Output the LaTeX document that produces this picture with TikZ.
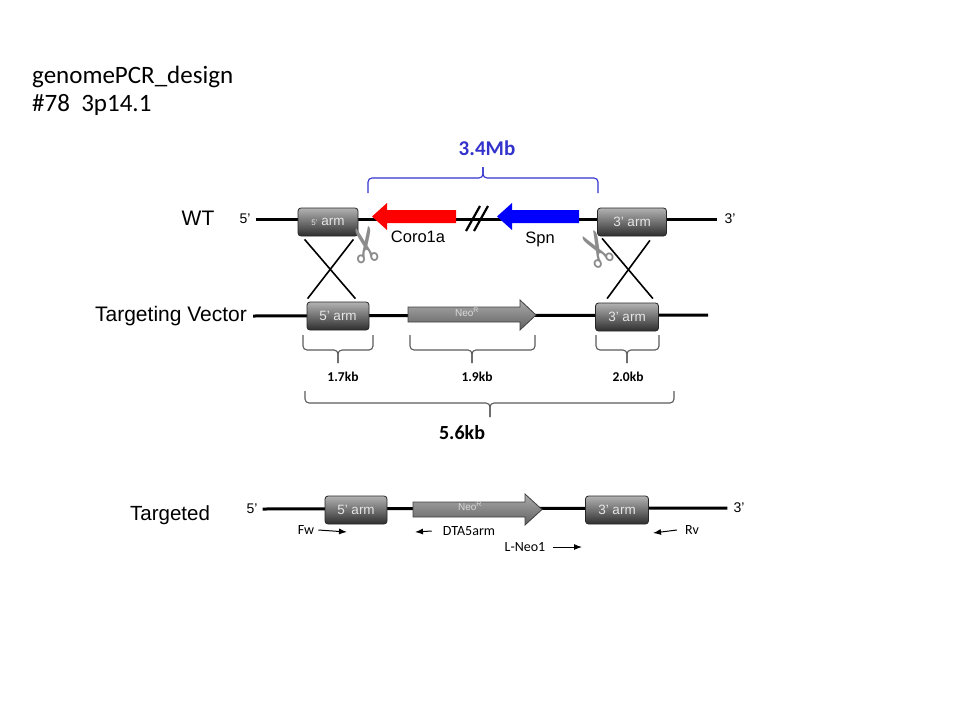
\documentclass[tikz,border=0pt]{standalone}
\usepackage{fontspec}
\setmainfont{Liberation Sans}
\newfontfamily\calibri{Carlito}
\newfontfamily\dejavu{DejaVu Sans}
\usetikzlibrary{arrows.meta}
\definecolor{mbblue}{RGB}{51,51,204}
\definecolor{bracegray}{RGB}{90,90,90}

\begin{document}
\begin{tikzpicture}[x=1pt,y=-1pt]
        \tikzstyle{every node}=[inner sep=0pt]
        \tikzstyle{armbox}=[draw=black!85, line width=0.8pt, rounded corners=3pt, top color=black!30, bottom color=black!82, minimum height=28pt, text=white!90!black, font=\fontsize{13.5}{15}\selectfont]
        \tikzstyle{dna}=[line width=3pt]
        \tikzstyle{cross}=[line width=1.6pt]
        \tikzstyle{kbbrace}=[draw=bracegray, line width=1.1pt, rounded corners=4pt]
        \tikzstyle{neo}=[draw=black!75, line width=0.8pt, top color=black!33, bottom color=black!62]
        \tikzstyle{neolabel}=[text=white!85!black, font=\fontsize{10}{12}\selectfont]
        \tikzstyle{primer}=[line width=1pt, -{Latex[length=8pt,width=6pt]}]
        \tikzstyle{rowlabel}=[font=\fontsize{21}{25}\selectfont]
        \tikzstyle{endlabel}=[font=\fontsize{14}{16}\selectfont]
        \tikzstyle{genelabel}=[font=\fontsize{16.5}{19}\selectfont]
        \tikzstyle{kb}=[font=\calibri\bfseries\fontsize{13.5}{15}\selectfont]
        \tikzstyle{primerlabel}=[font=\calibri\fontsize{14}{16}\selectfont]
        \tikzstyle{scissors}=[text=black!45, font=\dejavu\fontsize{48}{50}\selectfont]
        \useasboundingbox (0,0) rectangle (960,720);
        \node[anchor=base west, font=\calibri\fontsize{25}{29}\selectfont] (title) at (32,83) {genomePCR\_design};
        \node[anchor=base west, font=\calibri\fontsize{25}{29}\selectfont] (locus) at (32,111) {\#78\ \ 3p14.1};
        \node[rowlabel] (wtlabel) at (198,218) {WT};
        \node[endlabel] (wt5p) at (245,219) {5'};
        \node[endlabel] (wt3p) at (730,219) {3'};
        \draw[dna] ([xshift=5pt]wt5p.east) -- ([xshift=-7pt]wt3p.west);
        \node[armbox, minimum width=60pt] (wt5) at (328,222) {{\fontsize{8}{9}\selectfont 5'} arm};
        \node[armbox, minimum width=69pt] (wt3) at (632,222) {3' arm};
        \path[fill=red] (456,210) -- (387,210) -- (387,203) -- (372,216.5) -- (387,230) -- (387,223) -- (456,223) -- cycle;
        \path[fill=blue] (579,210) -- (512,210) -- (512,203) -- (497,216.5) -- (512,230) -- (512,223) -- (579,223) -- cycle;
        \draw[line width=2.2pt] (466,231) -- (480,206) (474,231) -- (488,206);
        \node[genelabel] (coro) at (418,237) {Coro1a};
        \node[genelabel] (spn) at (540,239) {Spn};
        \draw[kbbrace, draw=mbblue] (368,193) -- (368,178) -- (483,178) -- (483,167);
        \draw[kbbrace, draw=mbblue] (598,193) -- (598,178) -- (483,178) -- (483,167);
        \node[text=mbblue, font=\calibri\bfseries\fontsize{21}{24}\selectfont] (mb) at (487,148) {3.4Mb};
        \node[scissors, rotate=100] (cut5) at (369,244) {✂};
        \node[scissors, rotate=120] (cut3) at (600,247) {✂};
        \node[rowlabel] (tvlabel) at (171,316) {Targeting Vector};
        \draw[dna] ([xshift=6pt]tvlabel.east) -- (708,315);
        \node[armbox, minimum width=62pt] (tv5) at (338,316) {5' arm};
        \node[armbox, minimum width=63pt] (tv3) at (627,317) {3' arm};
        \path[neo] (408,307) -- (520,307) -- (520,300) -- (536,315) -- (520,330) -- (520,322) -- (408,322) -- cycle;
        \node[neolabel] (tvneo) at (467,312) {Neo\textsuperscript{R}};
        \draw[cross] ([xshift=7pt,yshift=-3pt]wt5.south west) -- ([xshift=-14pt,yshift=3pt]tv5.north east);
        \draw[cross] ([xshift=-5pt,yshift=-3pt]wt5.south east) -- ([xshift=1pt,yshift=3pt]tv5.north west);
        \draw[cross] ([xshift=5pt,yshift=-2pt]wt3.south west) -- ([xshift=-6pt,yshift=4pt]tv3.north east);
        \draw[cross] ([xshift=-17pt,yshift=-4pt]wt3.south east) -- ([xshift=12pt,yshift=4pt]tv3.north west);
        \draw[kbbrace] (303,335) -- (303,350) -- (338,350) -- (338,363);
        \draw[kbbrace] (373,335) -- (373,350) -- (338,350) -- (338,363);
        \draw[kbbrace] (410,335) -- (410,350) -- (472,350) -- (472,363);
        \draw[kbbrace] (535,335) -- (535,350) -- (472,350) -- (472,363);
        \draw[kbbrace] (596,335) -- (596,350) -- (627,350) -- (627,363);
        \draw[kbbrace] (659,335) -- (659,350) -- (627,350) -- (627,363);
        \draw[kbbrace] (305,391) -- (305,403) -- (490,403) -- (490,417);
        \draw[kbbrace] (674,391) -- (674,403) -- (490,403) -- (490,417);
        \node[kb] (kb5) at (343,377) {1.7kb};
        \node[kb] (kbneo) at (477,377) {1.9kb};
        \node[kb] (kb3) at (628,377) {2.0kb};
        \node[kb, font=\calibri\bfseries\fontsize{20}{24}\selectfont] (kball) at (462,433) {5.6kb};
        \node[rowlabel, font=\fontsize{20.5}{24}\selectfont] (tglabel) at (170,515) {Targeted};
        \node[endlabel] (tg5p) at (252,509) {5'};
        \node[endlabel] (tg3p) at (739,508) {3'};
        \draw[dna] ([xshift=5pt]tg5p.east) -- ([xshift=-6pt]tg3p.west);
        \node[armbox, minimum width=62pt] (tg5) at (356,510) {5' arm};
        \node[armbox, minimum width=63pt] (tg3) at (617,510) {3' arm};
        \path[neo] (413,502) -- (525,502) -- (525,494) -- (542,509.5) -- (525,525) -- (525,517) -- (413,517) -- cycle;
        \node[neolabel] (tgneo) at (470,506) {Neo\textsuperscript{R}};
        \node[primerlabel] (fw) at (306,530) {Fw};
        \node[primerlabel] (dta) at (469,531) {DTA5arm};
        \node[primerlabel] (lneo) at (525,547) {L-Neo1};
        \node[primerlabel] (rv) at (692,530) {Rv};
        \coordinate (fwtip) at (347,532);
        \coordinate (dtatip) at (415,532);
        \coordinate (lneotip) at (582,547);
        \coordinate (rvtip) at (653,533);
        \draw[primer] ([xshift=4pt]fw.east) -- (fwtip);
        \draw[primer] ([xshift=-11pt]dta.west) -- (dtatip);
        \draw[primer] ([xshift=7pt]lneo.east) -- (lneotip);
        \draw[primer] ([xshift=-8pt]rv.west) -- (rvtip);
\end{tikzpicture}
\end{document}
